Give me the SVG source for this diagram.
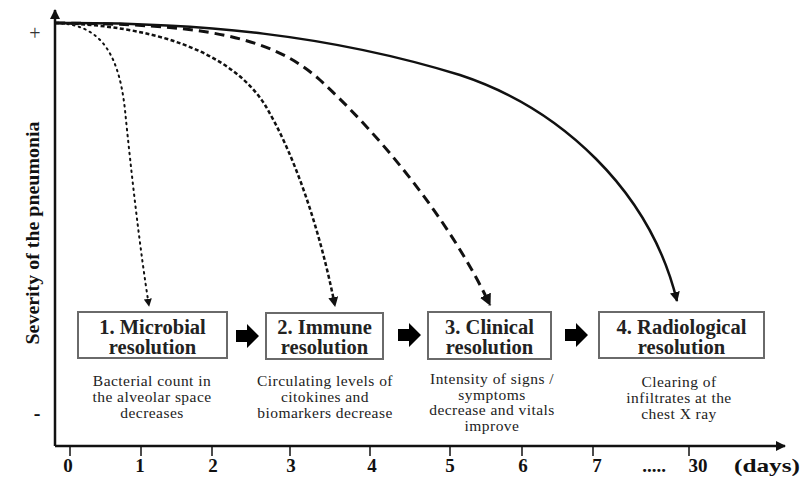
<svg xmlns="http://www.w3.org/2000/svg" width="812" height="479" viewBox="0 0 812 479">
<style>
.axis{stroke:#111;stroke-width:2.5;fill:none}
.tick{stroke:#111;stroke-width:1.5}
.tl{font-family:'Liberation Serif','DejaVu Serif',serif;font-weight:bold;font-size:19px;fill:#111}
.box{fill:#fff;stroke:#6a6a6a;stroke-width:2}
.title{font-family:'Liberation Serif','DejaVu Serif',serif;font-weight:bold;font-size:20.5px;fill:#222;text-anchor:middle}
.desc{font-family:'Liberation Serif','DejaVu Serif',serif;font-size:15.5px;letter-spacing:0.45px;fill:#222;text-anchor:middle}
.curve{fill:none;stroke:#111;marker-end:url(#ah)}
.blk{fill:#000}
</style>
<defs>
<marker id="ah" viewBox="0 0 10 10" refX="9" refY="5" markerWidth="4" markerHeight="4" orient="auto" markerUnits="strokeWidth">
<path d="M0,0 L10,5 L0,10 z" fill="#111"/>
</marker>
<marker id="ax" viewBox="0 0 10 10" refX="9" refY="5" markerWidth="4" markerHeight="4" orient="auto" markerUnits="strokeWidth">
<path d="M0,0 L10,5 L0,10 z" fill="#111"/>
</marker>
</defs>

<g id="axes">
<path class="axis" d="M55,446 L55,10" marker-end="url(#ax)"/>
<path class="axis" d="M55,446 L785,446" marker-end="url(#ax)"/>
<g class="tick">
<line x1="70" y1="446" x2="70" y2="456"/>
<line x1="141" y1="446" x2="141" y2="456"/>
<line x1="212" y1="446" x2="212" y2="456"/>
<line x1="290" y1="446" x2="290" y2="456"/>
<line x1="370" y1="446" x2="370" y2="456"/>
<line x1="450" y1="446" x2="450" y2="456"/>
<line x1="522" y1="446" x2="522" y2="456"/>
<line x1="593" y1="446" x2="593" y2="456"/>
<line x1="689" y1="446" x2="689" y2="456"/>
</g>
<text class="tl" x="68" y="472" text-anchor="middle">0</text>
<text class="tl" x="140" y="472" text-anchor="middle">1</text>
<text class="tl" x="213" y="472" text-anchor="middle">2</text>
<text class="tl" x="291" y="472" text-anchor="middle">3</text>
<text class="tl" x="372" y="472" text-anchor="middle">4</text>
<text class="tl" x="450" y="472" text-anchor="middle">5</text>
<text class="tl" x="523" y="472" text-anchor="middle">6</text>
<text class="tl" x="597" y="472" text-anchor="middle">7</text>
<text class="tl" x="654" y="472" text-anchor="middle">.....</text>
<text class="tl" x="698" y="472" text-anchor="middle">30</text>
<text class="tl" x="767" y="472" text-anchor="middle" textLength="66" lengthAdjust="spacingAndGlyphs">(days)</text>
<text x="35" y="40" text-anchor="middle" font-family="'Liberation Serif','DejaVu Serif',serif" font-size="20" fill="#333">+</text>
<text x="37" y="420" text-anchor="middle" font-family="'Liberation Serif','DejaVu Serif',serif" font-weight="bold" font-size="20" fill="#111">-</text>
<text class="tl" font-size="20" transform="translate(39,233) rotate(-90)" text-anchor="middle" textLength="223" lengthAdjust="spacingAndGlyphs">Severity of the pneumonia</text>
</g>

<g id="connectors">
<path class="curve" stroke-width="2" stroke-dasharray="1.5 4.5" stroke-linecap="round" d="M55,23 C95,24 118,45 125,110 C131,170 140,250 149,306"/>
<path class="curve" stroke-width="2.5" stroke-dasharray="4 2.5" d="M55,23 C150,25 230,50 265,105 C295,155 320,230 335,306"/>
<path class="curve" stroke-width="3" stroke-dasharray="10 6" d="M55,23 C200,24 270,35 320,80 C380,135 450,220 490,305"/>
<path class="curve" stroke-width="2.5" d="M55,23 C200,22 330,35 460,75 C560,108 650,190 677,301"/>
<polygon class="blk" points="236,330 247,330 247,324 259,336 247,348 247,342 236,342"/>
<polygon class="blk" points="398,329 409,329 409,323 421,335 409,347 409,341 398,341"/>
<polygon class="blk" points="565,329 576,329 576,323 588,335 576,347 576,341 565,341"/>
</g>

<g id="node1">
<rect class="box" x="78" y="312" width="149" height="46"/>
<text class="title" x="152.5" y="334">1. Microbial</text>
<text class="title" x="152.5" y="354">resolution</text>
<text class="desc" x="152" y="386">Bacterial count in</text>
<text class="desc" x="152" y="402">the alveolar space</text>
<text class="desc" x="152" y="418">decreases</text>
</g>
<g id="node2">
<rect class="box" x="266" y="313" width="117" height="46"/>
<text class="title" x="324.5" y="334">2. Immune</text>
<text class="title" x="324.5" y="354">resolution</text>
<text class="desc" x="325" y="386">Circulating levels of</text>
<text class="desc" x="325" y="402">citokines and</text>
<text class="desc" x="325" y="418">biomarkers decrease</text>
</g>
<g id="node3">
<rect class="box" x="428" y="312" width="123" height="47"/>
<text class="title" x="489.5" y="334">3. Clinical</text>
<text class="title" x="489.5" y="354">resolution</text>
<text class="desc" x="492" y="384" font-size="15">Intensity of signs /</text>
<text class="desc" x="492" y="399.5" font-size="15">symptoms</text>
<text class="desc" x="492" y="415" font-size="15">decrease and vitals</text>
<text class="desc" x="492" y="430.5" font-size="15">improve</text>
</g>
<g id="node4">
<rect class="box" x="599" y="312" width="165" height="46"/>
<text class="title" x="681.5" y="334">4. Radiological</text>
<text class="title" x="681.5" y="354">resolution</text>
<text class="desc" x="679" y="387">Clearing of</text>
<text class="desc" x="679" y="403">infiltrates at the</text>
<text class="desc" x="679" y="419">chest X ray</text>
</g>
</svg>
